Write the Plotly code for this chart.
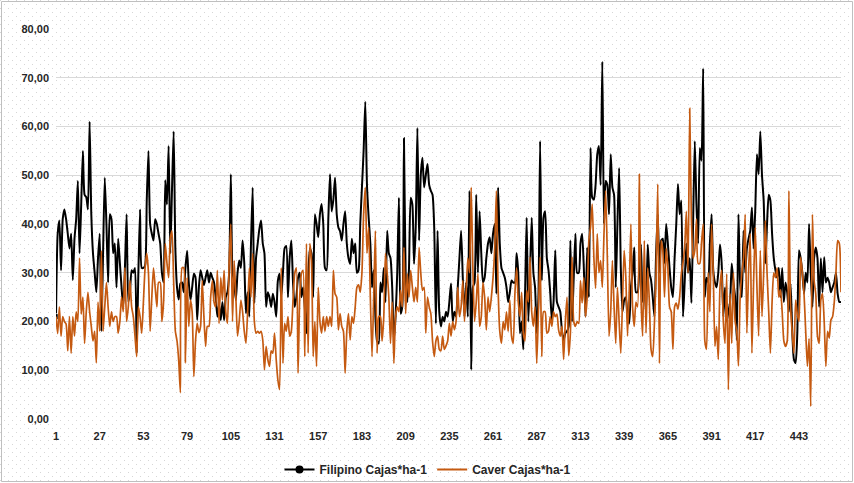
import base64
import struct
import zlib
import plotly.graph_objects as go

# ---- data ----
filipino = [
    21, 38, 40.7, 30.5, 41, 43, 41, 38, 35, 38, 28.5, 37, 41, 48.8, 34, 44, 55, 46, 45.5, 43,
    61, 42, 34, 30, 26, 33, 38, 18, 34, 49.5, 40, 28, 42, 41, 34, 36, 27,
    37, 32, 27, 23, 31, 42, 24, 26, 30.5, 30, 31, 13.5, 30, 43, 31, 31, 31.5, 45, 55, 40,
    38, 36.6, 41, 40, 38, 36, 30, 28, 49, 44, 56, 34, 47, 59, 35, 27, 24.5, 27.8, 28,
    26, 31, 34.5, 28, 24.4, 27, 29.8, 29, 20.3, 27, 30.5, 29, 27.5, 29, 30.5, 28, 30, 29, 28,
    25, 21, 23.5, 20.3, 24, 20.3, 25, 26, 30, 50.2, 30, 28, 24.4, 30, 32.5, 31, 36.6, 32, 21.7,
    26, 21, 36, 47.5, 23.8, 33, 36, 39, 40.7, 36, 34, 23, 26, 25, 23, 25.7, 24, 21, 28.4, 29.8,
    25, 30, 35, 35.5, 25, 33, 36.6, 28, 23, 25, 29, 30, 25, 27, 23, 17.6, 28, 35, 34, 25, 42,
    40, 37.3, 42, 44.1, 40, 31, 30.5, 41, 50.2, 42.6, 45, 49.5, 42, 39.3, 38.5, 36.6, 40, 42.6,
    36, 33, 31.8, 37, 34, 36, 30, 30.5, 40, 47.5, 55, 65.1, 48, 41.3, 36, 27, 30.5, 21, 16, 15.5, 28,
    26, 31, 24, 38.6, 34, 33, 27, 16.2, 21, 30, 45.4, 21.6, 23, 57.6, 30, 24, 31, 45.4, 44, 31.8,
    39.3, 59.7, 36.6, 50, 53.6, 47.5, 50, 52.3, 48, 46.8, 46, 39.3, 19.6, 38.6, 22, 19, 21, 20, 22,
    21, 24, 27.8, 20, 22, 21, 27, 33, 38.6, 29, 21, 28, 21, 46.8, 10.1, 27, 28, 46, 30, 42.6,
    34, 28, 29, 33, 36, 37.3, 34, 38, 40, 25.7, 47.5, 36, 31, 30, 29, 27, 24, 26, 28.4, 28,
    28, 34, 30, 17.6, 20, 14.3, 25, 41.3, 20, 30, 41.3, 30, 27, 17.6, 25, 57, 28.4, 41.3, 42.6,
    33, 30.5, 26, 20.3, 24, 34.6, 24, 23, 22, 18, 16.2, 17.6, 18, 19, 36.6, 20, 29, 38, 30,
    30, 36, 38, 31, 21, 35.2, 25, 55.6, 45.4, 45, 48, 54.3, 56, 48, 73.3, 40, 48.8, 48, 42, 54.3,
    47.5, 46, 27, 40, 51.5, 31, 22, 24.4, 25, 21, 19.6, 27, 30, 35.2, 26, 26, 31, 35.8, 24, 28.4,
    21.6, 35.8, 30, 28.5, 25, 21, 34, 42, 30, 36.6, 37, 32, 40, 36, 31, 27, 25, 33, 40, 48.2,
    42, 44.8, 21, 28, 36, 30, 33, 23.8, 40, 57, 44, 36, 55.6, 53, 71.9, 25, 29, 28, 36, 42,
    30.5, 28, 27, 30, 35.8, 32, 21, 27, 20, 22, 24, 31.9, 28, 25, 16.2, 42, 28, 25, 38.6, 30,
    35, 37, 38.6, 43.4, 35, 43, 54.3, 50.2, 59, 50, 44.8, 31.9, 40, 46, 44.8, 38, 33, 30.5, 29,
    31, 25, 31, 24, 28, 26, 22, 27.8, 18, 12.2, 11.5, 17.6, 34.6, 33, 30, 25.7, 30, 28, 40, 30,
    23, 33, 35.2, 33, 23, 33, 26, 33.2, 28, 29, 28, 26, 27, 28, 30, 25.7, 24, 24,
]

caver = [
    21, 17.5, 23, 17, 21, 20, 19.5, 14, 21, 13.5, 21, 17, 22, 20, 33, 21.5, 25, 15.5, 22, 26,
    22, 19, 16, 18, 11.5, 24, 18, 34.5, 18, 23, 28, 23, 19, 22, 20, 21, 21,
    17.6, 20, 25, 22, 31, 20, 23, 28.4, 23, 21, 17, 12.8, 23, 21, 17.6, 24, 31, 34, 30, 18,
    25, 31, 27, 23, 28, 28, 20, 24, 36, 32, 29, 37, 38.6, 28, 18, 16, 12, 5.4, 31,
    31, 11.5, 29, 19, 24.4, 22, 8.7, 16, 19.6, 17.7, 19, 28.4, 21, 14.9, 19, 19, 25, 28.4, 24,
    23, 30.5, 19.6, 29, 24.4, 30.5, 22, 19.6, 32, 40, 20, 32.5, 25, 17, 20, 24.4, 22, 18, 15.5,
    22, 31, 25, 34, 20, 17.6, 18, 17.6, 18, 16.2, 10.1, 14.9, 12.2, 10.8, 14, 13.5, 17.6, 12.2,
    8, 6, 31, 11.4, 19.6, 18, 21, 17, 18, 24.4, 29.8, 31, 9.4, 25, 29.8, 30.5, 12.8, 36, 13.5,
    36, 32.5, 12.8, 20,
    10.8, 27, 20, 17.6, 21, 18, 21, 19, 21, 19, 30.5, 25.7, 25, 18.3, 21.6, 19, 18, 9.4, 18,
    21.6, 16.2, 21, 19.6, 23, 27, 27.5, 26, 30, 42, 47.5, 34, 39.3, 25, 12.8, 25, 38.6, 13.5, 21, 21,
    16, 21, 34, 30, 25, 15.5, 24, 11.4, 21, 23, 22, 26.4, 23, 35.2, 21.6, 29.8, 25, 30.5, 27,
    24, 27, 24, 35.2, 30, 26.4, 27, 17.6, 25, 23, 21.6, 16, 12.8, 16, 17, 14.3, 14, 17, 14.3, 15,
    16, 19.6, 17, 20, 18.3, 20, 27, 21, 23, 28.4, 20, 26, 33, 30, 47.5, 31, 20, 24, 29.8, 19,
    21, 28, 25, 18.3, 25, 22, 25, 29, 35, 46.8, 27, 18, 15.5, 20, 18.3, 22, 18, 24.4, 17, 15.5,
    25.7, 31, 24, 21, 26, 17.6, 16, 26.4, 24, 33.2, 22, 19, 23, 11.4, 22, 33.2, 12.8, 22, 22,
    17.6, 18, 21, 19, 22, 21, 21.5, 18.3, 17, 19, 12.2, 20, 25, 13, 17.6, 33.2, 20, 19, 20,
    19.6, 28.4, 23.8, 29, 21, 25, 36.6, 39.3, 44.1, 33, 26.8, 38, 30, 32.5, 27, 38, 46.8, 33, 17,
    22, 32.5, 23, 15.5, 27, 20, 13.5, 24, 34.6, 29, 17, 26, 40, 23, 19, 24, 23, 50.2, 25, 17, 36.6,
    17.6, 31, 24, 14.3, 12.8, 19.6, 30, 48.2, 11.4, 36.6, 34.6, 25, 35, 31, 23, 22, 14.3, 23,
    23.8, 22.5, 25, 29.8, 32, 35.2, 42.6, 30, 63.7, 41, 33, 34.6, 41, 31.9, 31.9, 36, 40, 16,
    14.3, 30, 22, 40,
    30, 14.9, 19, 12.2, 27, 30.5, 20, 15.5, 29.8, 6, 25.7, 15.5, 30, 20, 18, 10.9, 25, 30, 33,
    42, 17.6, 30, 38, 13.5, 28, 39.3, 27, 17, 34.6, 21, 30, 40.7, 30, 22, 13.5, 24, 30, 29, 31,
    25, 26.5, 22, 16, 14.9, 16, 46.8, 23, 17.6, 13.5, 24.4, 21.5, 20, 33.2, 30, 25.7, 18, 10.8,
    16.5, 2.6, 42, 28.4, 25.6, 17, 15.5, 24.4, 25.7, 20, 10.8, 18, 16.6, 20.3, 21, 24, 30, 36.6,
    36, 26,
]

x_vals = list(range(1, len(filipino) + 1))
x_ticks = list(range(1, 469, 26))
y_ticks = [0, 10, 20, 30, 40, 50, 60, 70, 80]

names = ["Filipino Cajas*ha-1", "Caver Cajas*ha-1"]
BLACK = "#000000"
ORANGE = "#C55A11"
FONT = dict(family="Liberation Sans, Arial, sans-serif", size=11, color="#262626", weight="bold")
LEG_FONT = dict(FONT, size=12)

W, H = 854, 483
L, R, T, B = 56, 13, 29, 64
PW, PH = W - L - R, H - T - B


# ---- light dotted background pattern (Excel "5%" style), built as a PNG ----
def dotted_png(w, h, step=8, fg=(214, 214, 214), bg=(255, 255, 255)):
    rows = []
    half = step // 2
    for yy in range(h):
        row = bytearray([0])
        for xx in range(w):
            on = (yy % step == 0 and xx % step == 0) or (yy % step == half and xx % step == half)
            row += bytes(fg if on else bg)
        rows.append(bytes(row))
    raw = b"".join(rows)

    def chunk(tag, data):
        c = struct.pack(">I", len(data)) + tag + data
        return c + struct.pack(">I", zlib.crc32(tag + data) & 0xFFFFFFFF)

    png = b"\x89PNG\r\n\x1a\n"
    png += chunk(b"IHDR", struct.pack(">IIBBBBB", w, h, 8, 2, 0, 0, 0))
    png += chunk(b"IDAT", zlib.compress(raw, 9))
    png += chunk(b"IEND", b"")
    return "data:image/png;base64," + base64.b64encode(png).decode()


fig = go.Figure()

fig.add_trace(go.Scatter(
    x=x_vals, y=filipino, mode="lines+markers", name=names[0], showlegend=False,
    line=dict(color=BLACK, width=2, shape="spline", smoothing=0.6),
    marker=dict(symbol="square", color=BLACK, size=[6] + [0] * (len(filipino) - 1)),
))
fig.add_trace(go.Scatter(
    x=x_vals, y=caver, mode="lines", name=names[1], showlegend=False,
    line=dict(color=ORANGE, width=1.7, shape="spline", smoothing=0.6),
))
fig.add_trace(go.Scatter(
    x=[None], y=[None], mode="lines+markers", name=names[0],
    line=dict(color=BLACK, width=2), marker=dict(symbol="circle", color=BLACK, size=8),
))
fig.add_trace(go.Scatter(
    x=[None], y=[None], mode="lines", name=names[1],
    line=dict(color=ORANGE, width=2),
))

fig.update_layout(
    width=W, height=H,
    margin=dict(l=L, r=R, t=T, b=B, autoexpand=False),
    paper_bgcolor="white", plot_bgcolor="rgba(0,0,0,0)",
    separators=", ",
    font=FONT,
    showlegend=True,
    legend=dict(orientation="h", xref="container", yref="container",
                x=428 / W, xanchor="center", y=(H - 455) / H, yanchor="top",
                font=LEG_FONT, bgcolor="rgba(0,0,0,0)"),
    xaxis=dict(range=[1, len(filipino)], tickmode="array", tickvals=x_ticks,
               ticktext=[str(t) for t in x_ticks], showgrid=False, zeroline=False,
               showline=False, ticks="", tickfont=FONT, ticklabelstandoff=9),
    yaxis=dict(range=[0, 80], tickmode="array", tickvals=y_ticks, tickformat=".2f",
               showgrid=True, gridcolor="#D9D9D9", gridwidth=1, zeroline=False,
               showline=False, ticks="", tickfont=FONT, ticklabelstandoff=6),
    images=[dict(source=dotted_png(W, H), xref="paper", yref="paper",
                 x=-L / PW, y=1 + T / PH, sizex=W / PW, sizey=H / PH,
                 xanchor="left", yanchor="top", sizing="stretch", layer="below")],
    shapes=[dict(type="rect", xref="paper", yref="paper",
                 x0=(1.5 - L) / PW, x1=(852.5 - L) / PW,
                 y0=(H - B - 481.5) / PH, y1=(H - B - 1.5) / PH,
                 line=dict(color="#BFBFBF", width=1), fillcolor="rgba(0,0,0,0)", layer="below")],
)

fig.write_html("out.html")
